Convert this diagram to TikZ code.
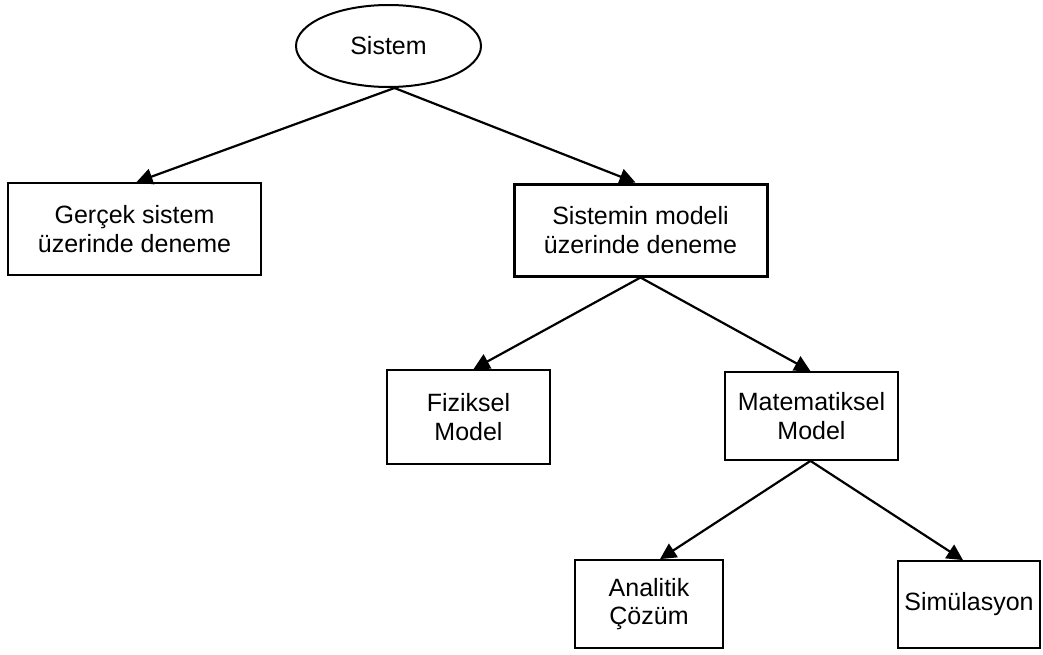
\documentclass[tikz,border=0pt]{standalone}
\usepackage{fontspec}
\setmainfont{Liberation Sans}
\usetikzlibrary{arrows.meta,shapes.geometric}
\begin{document}
\begin{tikzpicture}[x=1pt,y=-1pt,
  every node/.style={font=\fontsize{25}{28.5}\selectfont, align=center, inner sep=0pt},
  box/.style={draw, rectangle, line width=1.8pt},
  mainbox/.style={draw, rectangle, line width=3pt},
  oval/.style={draw, ellipse, line width=2pt},
  link/.style={line width=2.2pt, -{Triangle[length=16pt,width=16pt]}}]
\useasboundingbox (0,0) rectangle (1043,654);

% top of the tree
\node[oval, minimum width=185pt, minimum height=82pt] (sys) at (388.5,46) {Sistem};

% first level
\node[box, minimum width=253pt, minimum height=92pt] (real) at (134.5,229)
  {Gerçek sistem\\üzerinde deneme};
\node[mainbox, minimum width=253pt, minimum height=92pt] (model) at (640.5,230)
  {Sistemin modeli\\üzerinde deneme};

% second level
\node[box, minimum width=163pt, minimum height=94pt] (phys) at (468.5,417)
  {Fiziksel\\Model};
\node[box, minimum width=173pt, minimum height=88pt] (math) at (811.5,416)
  {Matematiksel\\Model};

% third level
\node[box, minimum width=148pt, minimum height=88pt] (anal) at (649,604)
  {Analitik\\Çözüm};
\node[box, minimum width=142pt, minimum height=87pt] (sim) at (969,604.5)
  {Simülasyon};

% connectors
\draw[link] ([xshift=6pt]sys.south) -- ([xshift=2pt]real.north);
\draw[link] ([xshift=6pt]sys.south) -- ([xshift=-5pt]model.north);
\draw[link] (model.south) -- ([xshift=5pt]phys.north);
\draw[link] (model.south) -- ([xshift=-1pt]math.north);
\draw[link] ([xshift=-1pt]math.south) -- ([xshift=11pt]anal.north);
\draw[link] ([xshift=-1pt]math.south) -- ([xshift=-6pt]sim.north);
\end{tikzpicture}
\end{document}
